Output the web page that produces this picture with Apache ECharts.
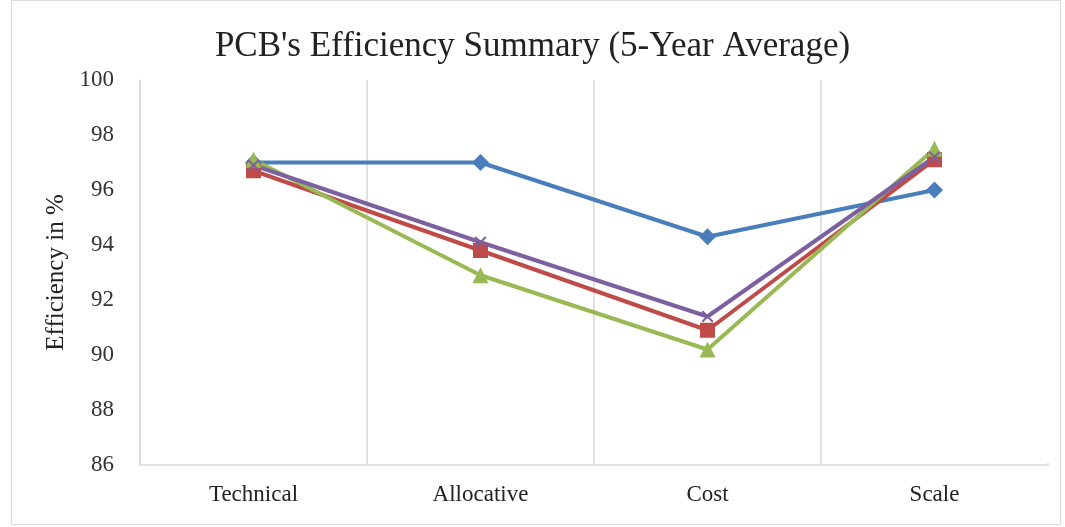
<!DOCTYPE html>
<html>
<head>
<meta charset="utf-8">
<script src="https://cdn.jsdelivr.net/npm/echarts@6/dist/echarts.min.js"></script>
<style>
    html, body {margin: 0; padding: 0; background: #fff;}
    #main {width: 1065px; height: 527px;}
    #frame {position: absolute; left: 11px; top: 0; width: 1050px; height: 525px; border: 1px solid #dcdcdc; box-sizing: border-box; pointer-events: none;}
</style>
</head>
<body>
<div id="main"></div>
<div id="frame"></div>
<script>
// categories and series
var categories = ["Technical", "Allocative", "Cost", "Scale"];
var seriesA = [97.0, 97.0, 94.3, 96.0];   // blue, diamonds
var seriesB = [96.7, 93.8, 90.9, 97.1];   // red, squares
var seriesC = [97.1, 92.9, 90.2, 97.5];   // green, triangles
var seriesD = [96.9, 94.1, 91.4, 97.2];   // purple, crosses

var serif = "'Liberation Serif', 'DejaVu Serif', serif";
var crossPath = "path://M0,1.2L1.2,0L5,3.8L8.8,0L10,1.2L6.2,5L10,8.8L8.8,10L5,6.2L1.2,10L0,8.8L3.8,5Z";

var myChart = echarts.init(document.getElementById('main'));

var makeLine = function (name, data, color, symbol, size) {
    return {
        name: name,
        type: 'line',
        data: data,
        symbol: symbol,
        symbolSize: size,
        lineStyle: {color: color, width: 4},
        itemStyle: {color: color},
        animation: false
    };
};

var option = {
    title: {
        text: "PCB's Efficiency Summary (5-Year Average)",
        left: 'center',
        top: 24,
        textStyle: {fontFamily: serif, fontSize: 35, fontWeight: 'normal', color: '#222'}
    },
    grid: {left: 140, right: 17, top: 80, bottom: 62},
    // hide the closing boundary line on the right, the reference has none
    graphic: [{
        type: 'rect',
        right: 14,
        top: 78,
        shape: {width: 6, height: 385},
        style: {fill: '#fff'},
        z: 100
    }],
    xAxis: {
        type: 'category',
        data: categories,
        boundaryGap: true,
        axisLine: {lineStyle: {color: '#d9d9d9', width: 1.5}},
        axisTick: {show: false},
        axisLabel: {fontFamily: serif, fontSize: 23, color: '#222', margin: 18},
        splitLine: {show: true, lineStyle: {color: '#d9d9d9', width: 1.5}}
    },
    yAxis: {
        type: 'value',
        min: 86,
        max: 100,
        interval: 2,
        name: 'Efficiency in %',
        nameLocation: 'middle',
        nameGap: 70,
        nameTextStyle: {fontFamily: serif, fontSize: 25, color: '#222'},
        axisLine: {show: true, lineStyle: {color: '#d9d9d9', width: 1.5}},
        axisTick: {show: false},
        axisLabel: {fontFamily: serif, fontSize: 23, color: '#333', margin: 26},
        splitLine: {show: false}
    },
    series: [
        makeLine('A', seriesA, '#4a7ebb', 'diamond', 17),
        makeLine('B', seriesB, '#be4b48', 'rect', 15),
        makeLine('C', seriesC, '#98b954', 'triangle', 16),
        makeLine('D', seriesD, '#7d60a0', crossPath, 12)
    ]
};
myChart.setOption(option);
</script>
</body>
</html>
